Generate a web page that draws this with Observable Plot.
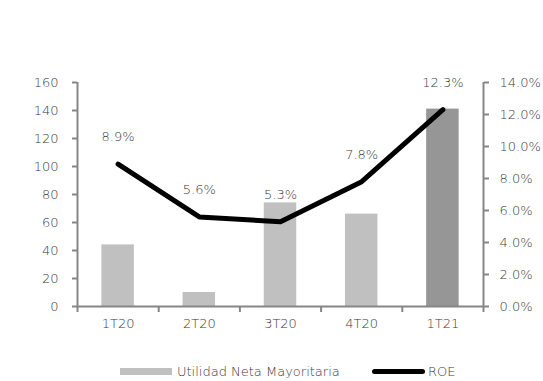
<!DOCTYPE html>
<html>
<head>
<meta charset="utf-8">
<script src="https://cdn.jsdelivr.net/npm/d3@7"></script>
<script src="https://cdn.jsdelivr.net/npm/@observablehq/plot@0.6"></script>
<style>
  html, body { margin: 0; padding: 0; background: #fff; }
  body { width: 543px; height: 381px; overflow: hidden; font-family: "DejaVu Sans", sans-serif; font-weight: 200; color: #3a3a3a; }
  #chart { position: relative; width: 543px; height: 350px; }
  #legend { position: relative; width: 543px; height: 31px; font-size: 13px; }
  .sw-bar { position: absolute; left: 120px; top: 18px; width: 52px; height: 7px; background: #c0c0c0; }
  .lab1 { position: absolute; left: 177px; top: 14px; line-height: 16px; }
  .sw-line { position: absolute; left: 372px; top: 19px; width: 53px; height: 5px; background: #000; border-radius: 3px; }
  .lab2 { position: absolute; left: 428px; top: 14px; line-height: 16px; }
</style>
</head>
<body>
<div id="chart"></div>
<div id="legend">
  <div class="sw-bar"></div><div class="lab1">Utilidad Neta Mayoritaria</div>
  <div class="sw-line"></div><div class="lab2">ROE</div>
</div>
<script>
const categories = ["1T20", "2T20", "3T20", "4T20", "1T21"];
const utilidad = [44, 10, 74, 66, 141];
const roe = [8.9, 5.6, 5.3, 7.8, 12.3];
const leftTicks = [0, 20, 40, 60, 80, 100, 120, 140, 160];
const rightTicks = [0, 2, 4, 6, 8, 10, 12, 14];
const barColors = ["#c0c0c0", "#c0c0c0", "#c0c0c0", "#c0c0c0", "#969696"];

const LEFT_MAX = 160, RIGHT_MAX = 14;
const k = LEFT_MAX / RIGHT_MAX;

const data = categories.map((c, i) => ({cat: c, i, u: utilidad[i], roe: roe[i], color: barColors[i]}));

const axisColor = "#868686";
const textColor = "#3a3a3a";
const fs = 13;

const plot = Plot.plot({
  width: 543,
  height: 350,
  marginTop: 82,
  marginBottom: 44,
  marginLeft: 77,
  marginRight: 60,
  style: {fontFamily: "'DejaVu Sans', sans-serif", fontWeight: 200, fontSize: fs + "px", color: textColor, background: "#fff"},
  x: {domain: [0, categories.length]},
  y: {domain: [0, LEFT_MAX]},
  marks: [
    Plot.rectY(data, {x1: d => d.i + 0.3, x2: d => d.i + 0.7, y1: 0, y2: "u", fill: "color"}),
    Plot.line(data, {x: d => d.i + 0.5, y: d => d.roe * k, stroke: "#000", strokeWidth: 5, strokeLinecap: "round", strokeLinejoin: "round"}),
    Plot.text(data, {x: d => d.i + 0.5, y: d => d.roe * k, text: d => d.roe.toFixed(1) + "%", dy: -27, fill: textColor, fontSize: fs}),
    Plot.ruleY([0], {stroke: axisColor, strokeWidth: 2}),
    Plot.ruleX([0, categories.length], {y1: 0, y2: LEFT_MAX, stroke: axisColor, strokeWidth: 2}),
    Plot.axisY(leftTicks, {anchor: "left", tickSize: 5, tickPadding: 14, stroke: axisColor, strokeWidth: 2, fill: textColor, label: null, fontSize: fs}),
    Plot.axisY(rightTicks.map(t => t * k), {anchor: "right", tickSize: 5, tickPadding: 11, stroke: axisColor, strokeWidth: 2, fill: textColor, label: null, tickFormat: d => (d / k).toFixed(1) + "%", fontSize: fs}),
    Plot.axisX(d3.range(0, categories.length + 1), {anchor: "bottom", tickSize: 6, tickFormat: () => "", stroke: axisColor, strokeWidth: 2, label: null}),
    Plot.axisX(categories.map((c, i) => i + 0.5), {anchor: "bottom", tickSize: 0, tickPadding: 12, tickFormat: d => categories[Math.floor(d)], fill: textColor, label: null, fontSize: fs})
  ]
});
document.getElementById("chart").appendChild(plot);
</script>
</body>
</html>
